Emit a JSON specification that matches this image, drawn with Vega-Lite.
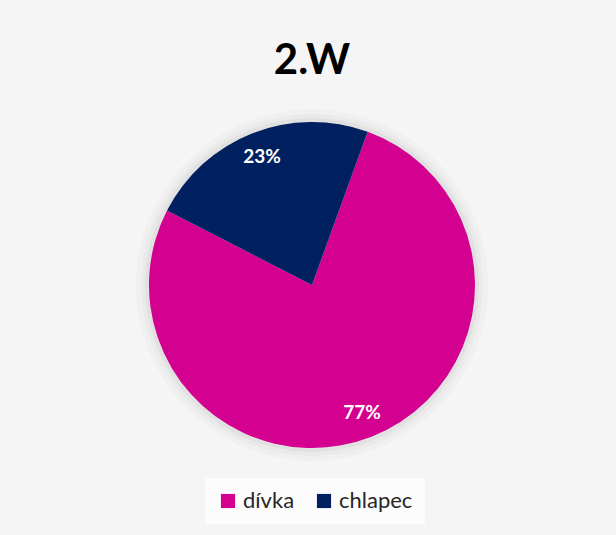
{
  "$schema": "https://vega.github.io/schema/vega-lite/v6.json",
  "width": 616,
  "height": 535,
  "autosize": {"type": "fit", "contains": "padding"},
  "padding": {"left": 8, "top": 35, "right": 0, "bottom": 0},
  "background": "#f5f5f5",
  "title": {
    "text": "2.W",
    "font": "Lato",
    "fontSize": 42,
    "fontWeight": "bold",
    "color": "#000000",
    "anchor": "middle",
    "offset": -48
  },
  "data": {
    "values": [
      {"pohlavi": "dívka", "podil": 0.77, "poradi": 1},
      {"pohlavi": "chlapec", "podil": 0.23, "poradi": 2}
    ]
  },
  "encoding": {
    "theta": {
      "field": "podil",
      "type": "quantitative",
      "stack": true,
      "scale": {"range": [0.349, 6.632]}
    },
    "order": {"field": "poradi", "type": "ordinal"}
  },
  "layer": [
    {
      "mark": {"type": "arc", "outerRadius": 176, "color": "#000000", "opacity": 0.02}
    },
    {
      "mark": {"type": "arc", "outerRadius": 171, "color": "#000000", "opacity": 0.025}
    },
    {
      "mark": {"type": "arc", "outerRadius": 167, "color": "#000000", "opacity": 0.035}
    },
    {
      "mark": {"type": "arc", "outerRadius": 163},
      "encoding": {
        "color": {
          "field": "pohlavi",
          "type": "nominal",
          "sort": ["dívka", "chlapec"],
          "scale": {"domain": ["dívka", "chlapec"], "range": ["#D4008F", "#002060"]},
          "legend": {
            "title": null,
            "orient": "none",
            "direction": "horizontal",
            "legendX": 197,
            "legendY": 443,
            "symbolType": "square",
            "symbolSize": 200,
            "symbolStrokeWidth": 0,
            "labelFont": "Lato",
            "labelFontSize": 22,
            "labelColor": "#262626",
            "columnPadding": 18,
            "fillColor": "#fcfcfc",
            "padding": 12
          }
        }
      }
    },
    {
      "mark": {"type": "text", "radius": 137, "font": "Lato", "fontSize": 19, "fontWeight": "bold", "color": "#ffffff"},
      "encoding": {
        "text": {"field": "podil", "type": "quantitative", "format": ".0%"}
      }
    }
  ],
  "config": {"view": {"stroke": null}}
}
